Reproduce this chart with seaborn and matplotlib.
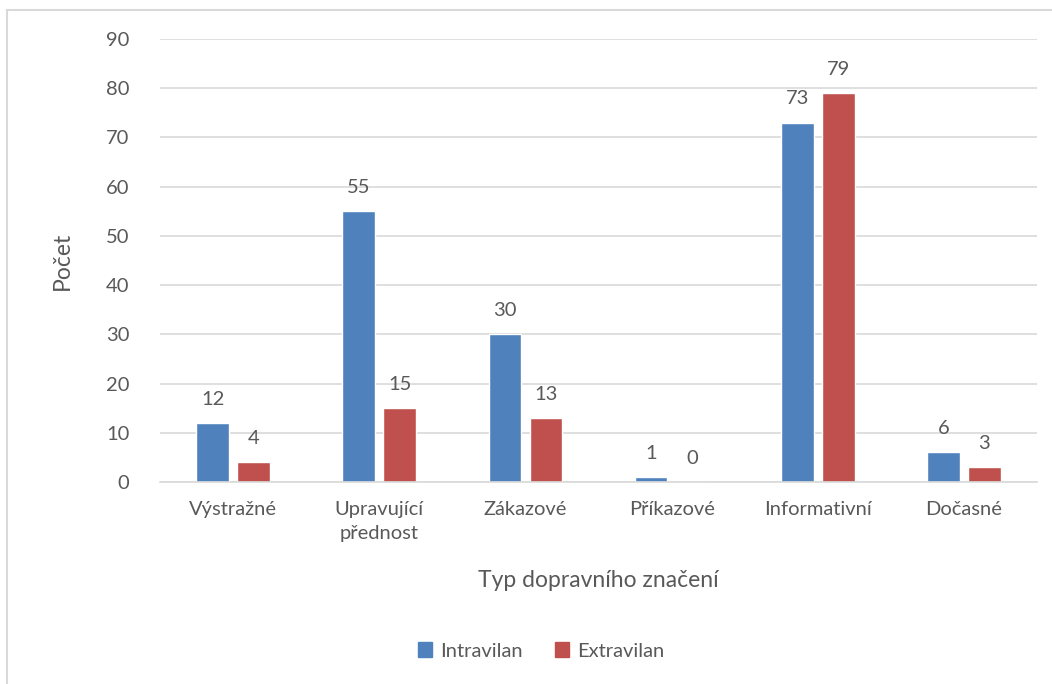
import matplotlib
matplotlib.use("Agg")
import matplotlib.pyplot as plt
import seaborn as sns
import pandas as pd
from matplotlib.lines import Line2D

categories = ["Výstražné", "Upravující\npřednost", "Zákazové", "Příkazové", "Informativní", "Dočasné"]
intravilan = [12, 55, 30, 1, 73, 6]
extravilan = [4, 15, 13, 0, 79, 3]
series = ["Intravilan", "Extravilan"]
yticks = [0, 10, 20, 30, 40, 50, 60, 70, 80, 90]

df = pd.DataFrame({
    "cat": categories * 2,
    "val": intravilan + extravilan,
    "series": [series[0]] * len(categories) + [series[1]] * len(categories),
})

sns.set_theme(style="white")
plt.rcParams["font.family"] = ["Lato", "DejaVu Sans"]
text_col = "#595959"

fig = plt.figure(figsize=(10.52, 6.84), dpi=100)
ax = fig.add_axes([160 / 1052, 1 - 482 / 684, (1037 - 160) / 1052, (482 - 39) / 684])

palette = {"Intravilan": "#4F81BD", "Extravilan": "#C0504D"}
sns.barplot(data=df, x="cat", y="val", hue="series", palette=palette, width=0.56,
            gap=0.2, ax=ax, legend=False, saturation=1)

ax.set_ylim(0, 90)
ax.set_yticks(yticks)
ax.set_xlim(-0.5, len(categories) - 0.5)
ax.yaxis.grid(True, color="#D9D9D9", linewidth=1.2)
ax.set_axisbelow(True)
for s in ["top", "right", "left"]:
    ax.spines[s].set_visible(False)
ax.spines["bottom"].set_color("#D9D9D9")
ax.spines["bottom"].set_linewidth(1.2)
ax.tick_params(axis="both", length=0, labelsize=14.5, colors=text_col)
ax.tick_params(axis="x", pad=14)
ax.tick_params(axis="y", pad=22)
for lbl in ax.get_xticklabels():
    lbl.set_linespacing(1.5)

for cont in ax.containers:
    ax.bar_label(cont, labels=[f"{int(v)}" for v in cont.datavalues], padding=11,
                 fontsize=14.5, color=text_col)

ax.set_xlabel("Typ dopravního značení", fontsize=16.5, color=text_col, labelpad=20)
ax.set_ylabel("Počet", fontsize=16.5, color=text_col, labelpad=24)

handles = [plt.Rectangle((0, 0), 1, 1, color=palette[s]) for s in series]
fig.legend(handles, series, loc="center", bbox_to_anchor=(541 / 1052, 1 - 651 / 684),
           ncol=2, frameon=False, fontsize=14.5, handlelength=0.7, handleheight=0.7,
           columnspacing=1.6, handletextpad=0.4, labelcolor=text_col)

# outer chart border (left and top visible)
fig.add_artist(Line2D([7 / 1052, 7 / 1052], [0, 1 - 10 / 684], transform=fig.transFigure,
                      color="#D9D9D9", linewidth=1.5))
fig.add_artist(Line2D([7 / 1052, 1], [1 - 10 / 684, 1 - 10 / 684], transform=fig.transFigure,
                      color="#D9D9D9", linewidth=1.5))

fig.savefig("out.png", dpi=100)
